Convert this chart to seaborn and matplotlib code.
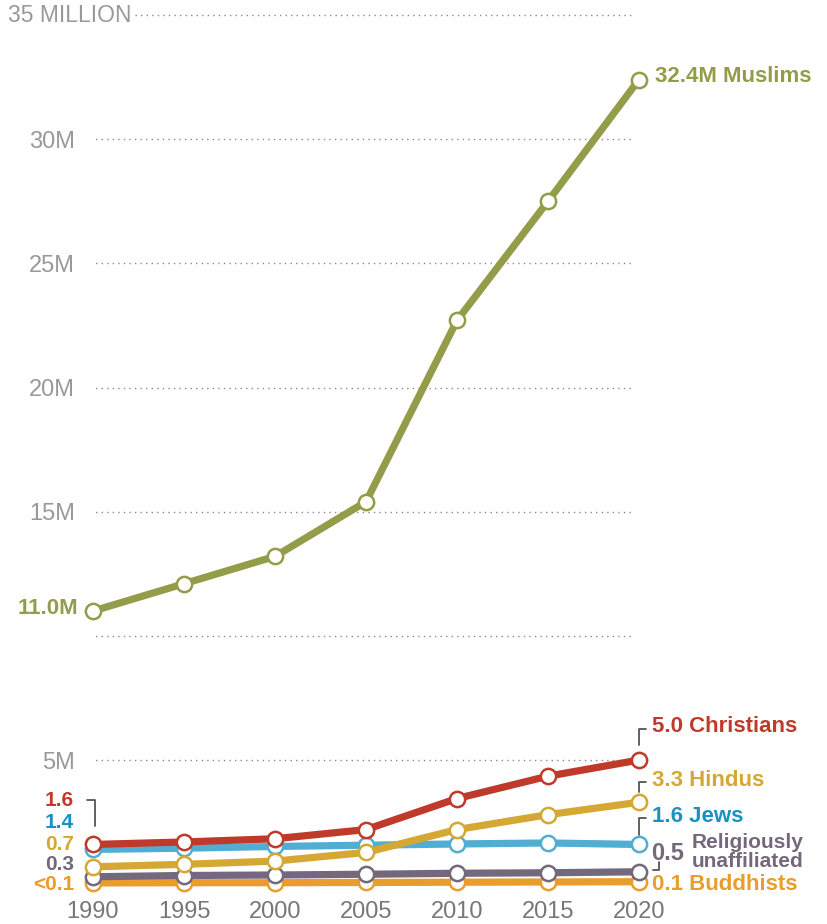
import matplotlib
matplotlib.use("Agg")
import matplotlib.pyplot as plt
import seaborn as sns
import pandas as pd
from matplotlib.lines import Line2D

# ---------------- data ----------------
years = [1990, 1995, 2000, 2005, 2010, 2015, 2020]
muslims = [11.0, 12.1, 13.2, 15.4, 22.7, 27.5, 32.4]
christians = [1.6, 1.7, 1.83, 2.2, 3.45, 4.35, 5.0]
hindus = [0.7, 0.8, 0.93, 1.28, 2.2, 2.8, 3.3]
jews = [1.4, 1.45, 1.52, 1.57, 1.62, 1.66, 1.6]
unaffiliated = [0.3, 0.35, 0.37, 0.4, 0.44, 0.46, 0.5]
buddhists = [0.05, 0.06, 0.06, 0.07, 0.08, 0.09, 0.1]

start_labels = ["1.6", "1.4", "0.7", "0.3", "<0.1"]   # Christians, Jews, Hindus, Unaffiliated, Buddhists
end_labels = ["32.4M Muslims", "5.0 Christians", "3.3 Hindus", "1.6 Jews", "0.5", "0.1 Buddhists"]
ytick_vals = [5, 10, 15, 20, 25, 30]
ytick_labels = ["5M", "", "15M", "20M", "25M", "30M"]
top_label = "35 MILLION"

C_MUS = "#939C48"
C_CHR = "#BF3A2B"
C_HIN = "#D4A833"
C_JEW = "#52ADD2"
C_JEW_TXT = "#1A91C4"
C_UNA = "#74687C"
C_BUD = "#E99D2C"

# ---------------- figure ----------------
sns.set_theme(style="white")
plt.rcParams["font.family"] = ["Liberation Sans", "DejaVu Sans"]

W, H = 827, 924
fig = plt.figure(figsize=(W / 100, H / 100), dpi=100)
ax_l, ax_r, y0px, y35px = 93, 639, 884.2, 15
ax = fig.add_axes([ax_l / W, (H - y0px) / H, (ax_r - ax_l) / W, (y0px - y35px) / H])
ax.set_xlim(1990, 2020)
ax.set_ylim(0, 35)
for s in ax.spines.values():
    s.set_visible(False)

pxyr = (ax_r - ax_l) / 30.0
x_grid0 = 1990 - 3 / pxyr
x_grid1 = 2020 - 7 / pxyr
grid_kw = dict(color="#8a8a8a", linewidth=1.0, linestyle=(0, (1, 3)), zorder=0)
ax.hlines(ytick_vals, x_grid0, x_grid1, **grid_kw)
ax.hlines([35], 1990 + (135 - ax_l) / pxyr, x_grid1, clip_on=False, **grid_kw)

series = [
    ("Muslims", muslims, C_MUS),
    ("Buddhists", buddhists, C_BUD),
    ("Unaffiliated", unaffiliated, C_UNA),
    ("Jews", jews, C_JEW),
    ("Hindus", hindus, C_HIN),
    ("Christians", christians, C_CHR),
]
for i, (name, vals, col) in enumerate(series):
    df = pd.DataFrame({"year": years, "value": vals})
    sns.lineplot(data=df, x="year", y="value", ax=ax, color=col, linewidth=5.2,
                 marker="o", markersize=11, markerfacecolor="white",
                 markeredgecolor=col, markeredgewidth=1.8, zorder=3 + i,
                 clip_on=False, legend=False)

ax.set_xlabel("")
ax.set_ylabel("")
ax.set_xticks(years)
ax.set_xticklabels([str(y) for y in years])
ax.tick_params(axis="x", length=0, pad=12, labelsize=17, labelcolor="#777777")
ax.set_yticks(ytick_vals)
ax.set_yticklabels(ytick_labels)
ax.tick_params(axis="y", length=0, pad=13, labelsize=17, labelcolor="#999999")

def ftxt(px, py, s, color, ha="left", size=16, weight="bold", **kw):
    fig.text(px / W, 1 - py / H, s, color=color, ha=ha, va="center",
             fontsize=size, fontweight=weight, **kw)

def bracket(pts, color="#555555"):
    xs = [p[0] / W for p in pts]
    ys = [1 - p[1] / H for p in pts]
    fig.add_artist(Line2D(xs, ys, color=color, linewidth=1.3, transform=fig.transFigure))

ftxt(8, 16, top_label, "#999999", size=16.5, weight="normal")

# end labels
ftxt(655, 77, end_labels[0], C_MUS)
ftxt(652, 727, end_labels[1], C_CHR)
ftxt(652, 781, end_labels[2], C_HIN)
ftxt(652, 816, end_labels[3], C_JEW_TXT)
ftxt(651, 853, end_labels[4], C_UNA, size=17)
fig.text(692 / W, 1 - 852 / H, "Religiously\nunaffiliated", color=C_UNA, ha="left",
         va="center", fontsize=15, fontweight="bold", linespacing=0.95)
ftxt(652, 884, end_labels[5], C_BUD)

# start labels
ftxt(78, 609, f"{muslims[0]:.1f}M", C_MUS, ha="right")
ftxt(74, 800, start_labels[0], C_CHR, ha="right", size=15)
ftxt(74, 822, start_labels[1], C_JEW_TXT, ha="right", size=15)
ftxt(74, 844, start_labels[2], C_HIN, ha="right", size=15)
ftxt(74, 864, start_labels[3], C_UNA, ha="right", size=15)
ftxt(74, 885, start_labels[4], C_BUD, ha="right", size=15)

# brackets
bracket([(87, 800), (95, 800), (95, 826)])
bracket([(639, 745), (639, 729), (646, 729)])
bracket([(639, 792), (639, 782), (646, 782)])
bracket([(639, 835), (639, 818), (646, 818)])
bracket([(659, 862), (659, 870), (653, 870)])

fig.savefig("out.png", dpi=100, facecolor="white")
